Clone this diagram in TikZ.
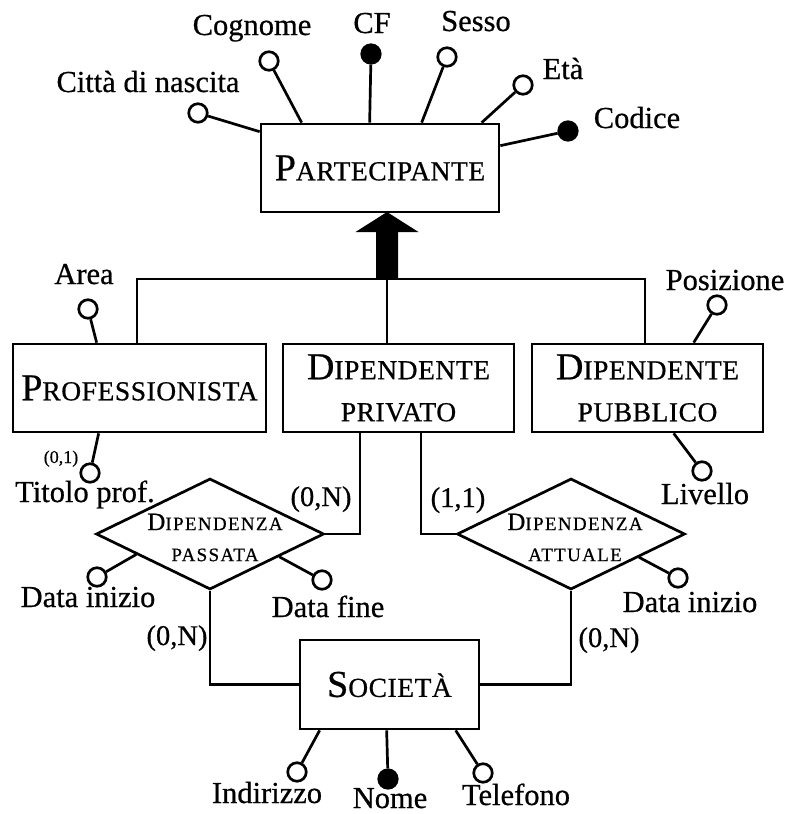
\documentclass[tikz,border=0pt]{standalone}
\usepackage{fontspec}
\setmainfont{Liberation Serif}[FakeBold=0.6]
\usetikzlibrary{shapes.geometric,calc}
\newcommand\bigC[1]{{\fontsize{38}{42}\selectfont #1}}
\newcommand\smC[1]{{\fontsize{27.5}{42}\selectfont\addfontfeatures{LetterSpace=2}#1}}
\newcommand\dC[1]{{\fontsize{25}{31}\selectfont #1}}
\newcommand\dsC[1]{{\fontsize{19}{31}\selectfont\addfontfeatures{LetterSpace=7}#1}}
\begin{document}
\begin{tikzpicture}[x=1pt,y=-1pt,line width=2.7pt,
  ent/.style={draw,rectangle,inner sep=0pt,align=center,font=\fontsize{27.5}{42}\selectfont},
  rel/.style={draw,diamond,inner sep=0pt,minimum width=228pt,minimum height=111pt},
  attr/.style={draw,circle,fill=white,inner sep=0pt,minimum size=18.5pt},
  keyattr/.style={attr,fill=black},
  lbl/.style={inner sep=0pt,anchor=base,font=\fontsize{30.5}{32}\selectfont},
  card/.style={inner sep=0pt,anchor=base,font=\fontsize{28.5}{32}\selectfont},
  smallcard/.style={inner sep=0pt,anchor=base,font=\fontsize{18}{20}\selectfont},
  dtext/.style={inner sep=0pt,align=center,font=\fontsize{19}{31}\selectfont}]
\useasboundingbox (0,0) rectangle (787,814);

% entities
\node[ent,minimum width=238pt,minimum height=88pt] (part) at (380,168) {\bigC{P}\smC{ARTECIPANTE}};
\node[ent,minimum width=253pt,minimum height=88pt] (prof) at (139.5,388) {\bigC{P}\smC{ROFESSIONISTA}};
\node[ent,minimum width=231pt,minimum height=88pt] (priv) at (398.5,388) {\bigC{D}\smC{IPENDENTE}\\\smC{PRIVATO}};
\node[ent,minimum width=231pt,minimum height=88pt] (pub) at (647.5,388) {\bigC{D}\smC{IPENDENTE}\\\smC{PUBBLICO}};
\node[ent,minimum width=179pt,minimum height=89pt] (soc) at (389.5,684.5) {\bigC{S}\smC{OCIETÀ}};

% relationships
\node[rel] (dp) at (210,534) {};
\node[rel] (da) at (571,534) {};
\node[dtext] (dpt) at (215,537.5) {\dC{D}\dsC{IPENDENZA}\\\dsC{PASSATA}};
\node[dtext] (dat) at (575,537.5) {\dC{D}\dsC{IPENDENZA}\\\dsC{ATTUALE}};

% generalization
\coordinate (gl) at (137,279);
\coordinate (gr) at (645,279);
\coordinate (gen) at (387,279);
\draw (prof.north -| gl) -- (gl) -- (gr) -- (pub.north -| gr);
\draw (gen) -- (gen |- priv.north);
\fill (gen) ++(-11,0) -- ++(0,-47) -- ++(-20.5,0) -- ++(31.5,-20) -- ++(31.5,20) -- ++(-20.5,0) -- ++(0,47) -- cycle;

% relationship connectors
\draw ([xshift=-38.5pt]priv.south) |- (dp.east);
\draw ([xshift=22.5pt]priv.south) |- (da.west);
\draw (dp.south) |- (soc.west);
\draw (da.south) |- (soc.east);

% attributes of PARTECIPANTE
\node[attr] (citta) at (198,113) {};
\node[attr] (cogn) at (269,61) {};
\node[keyattr] (cf) at (371,54) {};
\node[attr] (sesso) at (447,57) {};
\node[attr] (eta) at (523,85) {};
\node[keyattr] (cod) at (568,131) {};
\draw ([yshift=-9pt]part.north west) -- (citta);
\draw ([xshift=42pt]part.north west) -- (cogn);
\draw ([xshift=110pt]part.north west) -- (cf);
\draw ([xshift=162pt]part.north west) -- (sesso);
\draw ([xshift=222pt]part.north west) -- (eta);
\draw ([yshift=-23pt]part.north east) -- (cod);
\node[lbl] (lcitta) at (148,92) {Città di nascita};
\node[lbl] (lcogn) at (252,35) {Cognome};
\node[lbl] (lcf) at (372,33) {CF};
\node[lbl] (lsesso) at (476,31) {Sesso};
\node[lbl] (leta) at (563,79) {Età};
\node[lbl] (lcod) at (637,128) {Codice};

% attributes of PROFESSIONISTA
\node[attr] (area) at (88,309) {};
\node[attr] (tit) at (90,473) {};
\draw ([xshift=85pt]prof.north west) -- (area);
\draw ([xshift=87pt]prof.south west) -- (tit);
\node[lbl] (larea) at (84,284) {Area};
\node[lbl] (ltit) at (85,502) {Titolo prof.};
\node[smallcard] (c01) at (61,463) {(0,1)};

% attributes of DIPENDENTE PUBBLICO
\node[attr] (pos) at (717,305) {};
\node[attr] (liv) at (702,471) {};
\draw ([xshift=163pt]pub.north west) -- (pos);
\draw ([xshift=143pt]pub.south west) -- (liv);
\node[lbl] (lpos) at (725,290) {Posizione};
\node[lbl] (lliv) at (705,504) {Livello};

% attributes of relationships
\node[attr] (dip) at (97,577) {};
\node[attr] (dfp) at (322,580) {};
\node[attr] (dia) at (678,578) {};
\draw ($(dp.west)!0.36!(dp.south)$) -- (dip);
\draw ($(dp.south)!0.6!(dp.east)$) -- (dfp);
\draw ($(da.south)!0.59!(da.east)$) -- (dia);
\node[lbl] (ldip) at (88,607) {Data inizio};
\node[lbl] (ldfp) at (328,617) {Data fine};
\node[lbl] (ldia) at (690,612) {Data inizio};

% attributes of SOCIETA
\node[attr] (ind) at (297,772) {};
\node[keyattr] (nome) at (388,779) {};
\node[attr] (tel) at (483,773) {};
\draw ([xshift=21pt]soc.south west) -- (ind);
\draw ([xshift=88pt]soc.south west) -- (nome);
\draw ([xshift=157pt]soc.south west) -- (tel);
\node[lbl] (lind) at (267,803) {Indirizzo};
\node[lbl] (lnome) at (390,808) {Nome};
\node[lbl] (ltel) at (516,805) {Telefono};

% cardinalities
\node[card] (c1) at (321,506) {(0,N)};
\node[card] (c2) at (458,507) {(1,1)};
\node[card] (c3) at (177,645) {(0,N)};
\node[card] (c4) at (609,647) {(0,N)};
\end{tikzpicture}
\end{document}
